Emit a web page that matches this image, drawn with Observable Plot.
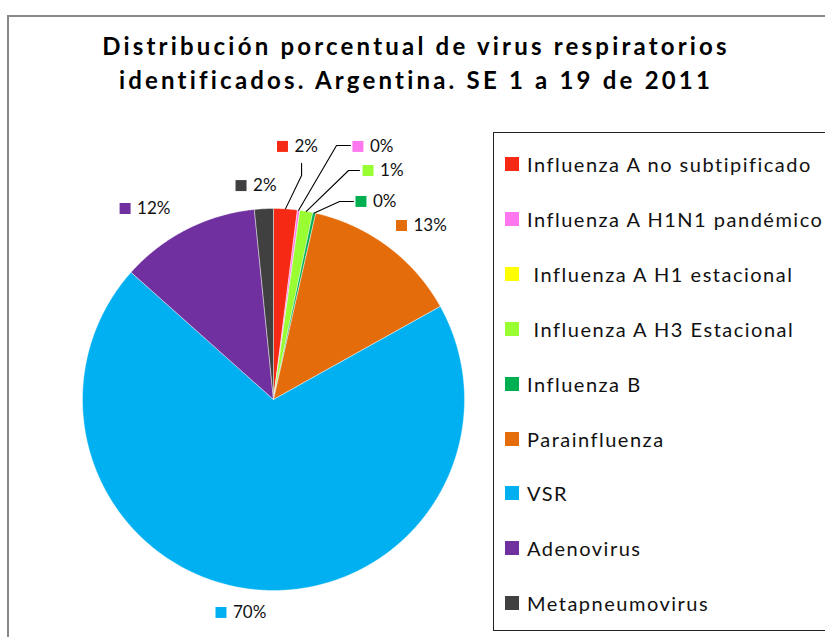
<!DOCTYPE html>
<html>
<head>
<meta charset="utf-8">
<script src="https://cdn.jsdelivr.net/npm/d3@7"></script>
<script src="https://cdn.jsdelivr.net/npm/@observablehq/plot@0.6"></script>
<style>
  html, body { margin: 0; padding: 0; background: #fff; }
  #wrap { position: relative; width: 825px; height: 637px; overflow: hidden; font-family: Lato, "Open Sans", sans-serif; }
  #frame { position: absolute; left: 7px; top: 15px; width: 900px; height: 700px; border: 2px solid #888; box-sizing: border-box; }
  #title { position: absolute; left: 0; width: 832px; top: 29px; text-align: center; font-weight: bold; font-size: 24px; line-height: 34px; letter-spacing: 3.2px; color: #000; }
  #chart { position: absolute; left: 0; top: 0; }
  #legend { position: absolute; left: 493px; top: 132px; width: 400px; height: 499px; border: 1.5px solid #222; box-sizing: border-box; }
  .item { position: absolute; left: 0; height: 20px; display: flex; align-items: center; white-space: pre; font-size: 20px; line-height: 20px; letter-spacing: 1.5px; color: #111; }
  .sw { display: inline-block; width: 14px; height: 14px; margin-left: 11px; margin-right: 8px; }
</style>
</head>
<body>
<div id="wrap">
  <div id="frame"></div>
  <div id="title">Distribución porcentual de virus respiratorios<br>identificados. Argentina. SE 1 a 19 de 2011</div>
  <div id="chart"></div>
  <div id="legend"></div>
</div>
<script>
// ---- data ----
const categories = [
  "Influenza A no subtipificado",
  "Influenza A H1N1 pandémico",
  "Influenza A H1 estacional",
  "Influenza A H3 Estacional",
  "Influenza B",
  "Parainfluenza",
  "VSR",
  "Adenovirus",
  "Metapneumovirus"
];
const values = [2.0, 0.2, 0, 1.1, 0.25, 13.35, 69.7, 11.8, 1.6];
const colors = ["#F62A14", "#FF77EE", "#FFFF00", "#99FF33", "#00B050", "#E46C0A", "#00B0F0", "#7030A0", "#404040"];
const legendText = [
  "Influenza A no subtipificado",
  "Influenza A H1N1 pandémico",
  " Influenza A H1 estacional",
  " Influenza A H3 Estacional",
  "Influenza B",
  "Parainfluenza",
  "VSR",
  "Adenovirus",
  "Metapneumovirus"
];

// ---- layout (pie in unit coordinates; label placement as in the original) ----
const cx = 273, cy = 399, R = 191;
const labelAt = {
  "Influenza A no subtipificado": [0.047, 1.325],
  "Influenza A H1N1 pandémico": [0.442, 1.325],
  "Influenza A H3 Estacional": [0.495, 1.199],
  "Influenza B": [0.458, 1.037],
  "Parainfluenza": [0.670, 0.911],
  "VSR": [-0.275, -1.115],
  "Adenovirus": [-0.777, 1.000],
  "Metapneumovirus": [-0.170, 1.120]
};
const leaderAt = {
  "Influenza A no subtipificado": [[0.147, 1.236], [0.147, 1.173]],
  "Influenza A H1N1 pandémico": [[0.403, 1.330], [0.330, 1.330]],
  "Influenza A H3 Estacional": [[0.450, 1.199], [0.393, 1.199]],
  "Influenza B": [[0.419, 1.037], [0.346, 1.037]]
};

const total = d3.sum(values);
const arcs = d3.pie().sort(null).value(d => d.value).startAngle(0).endAngle(2 * Math.PI)(
  categories.map((name, i) => ({name, value: values[i]}))
);

const slicePts = [];
for (const a of arcs) {
  if (a.data.value <= 0) continue;
  const n = Math.max(2, Math.ceil((a.endAngle - a.startAngle) / 0.005));
  slicePts.push({name: a.data.name, x: 0, y: 0});
  for (let k = 0; k <= n; k++) {
    const t = a.startAngle + (a.endAngle - a.startAngle) * k / n;
    slicePts.push({name: a.data.name, x: Math.sin(t), y: Math.cos(t)});
  }
  slicePts.push({name: a.data.name, x: 0, y: 0});
}

const labels = arcs.filter(a => labelAt[a.data.name]).map(a => ({
  name: a.data.name,
  x: labelAt[a.data.name][0],
  y: labelAt[a.data.name][1],
  text: Math.round(a.data.value / total * 100) + "%"
}));

const leaders = [];
for (const a of arcs) {
  const l = leaderAt[a.data.name];
  if (!l) continue;
  const mid = (a.startAngle + a.endAngle) / 2;
  leaders.push({name: a.data.name, x: l[0][0], y: l[0][1]});
  leaders.push({name: a.data.name, x: l[1][0], y: l[1][1]});
  leaders.push({name: a.data.name, x: Math.sin(mid), y: Math.cos(mid)});
}

const svg = Plot.plot({
  width: 825,
  height: 637,
  margin: 0,
  x: {domain: [-1, 1], range: [cx - R, cx + R], axis: null},
  y: {domain: [-1, 1], range: [cy + R, cy - R], axis: null},
  color: {domain: categories, range: colors},
  style: {background: "transparent", overflow: "visible", fontFamily: "Lato, sans-serif"},
  marks: [
    Plot.line(slicePts, {x: "x", y: "y", z: "name", fill: "name", stroke: "#ffffff", strokeWidth: 0.6, strokeOpacity: 0.7, curve: "linear"}),
    Plot.line(leaders, {x: "x", y: "y", z: "name", stroke: "#000", strokeWidth: 1.1, curve: "linear"}),
    Plot.dot(labels, {x: "x", y: "y", symbol: "square", r: 6.2, fill: "name", stroke: null}),
    Plot.text(labels, {x: "x", y: "y", text: "text", dx: 12, textAnchor: "start", fontSize: 17, fill: "#111"})
  ]
});
document.getElementById("chart").appendChild(svg);

// ---- legend ----
const legend = document.getElementById("legend");
const rowTop = 31, rowStep = 54.9; // centers relative to legend box
categories.forEach((name, i) => {
  const div = document.createElement("div");
  div.className = "item";
  div.style.top = (rowTop + i * rowStep - 10) + "px";
  const sw = document.createElement("span");
  sw.className = "sw";
  sw.style.background = colors[i];
  const tx = document.createElement("span");
  tx.textContent = legendText[i];
  div.appendChild(sw);
  div.appendChild(tx);
  legend.appendChild(div);
});
</script>
</body>
</html>
